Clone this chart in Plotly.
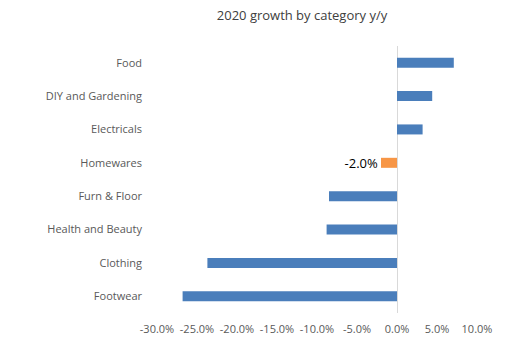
import plotly.graph_objects as go

categories = ["Food", "DIY and Gardening", "Electricals", "Homewares",
              "Furn & Floor", "Health and Beauty", "Clothing", "Footwear"]
growth = [7.1, 4.4, 3.2, -2.0, -8.5, -8.8, -23.7, -26.8]
highlight = "Homewares"
tick_vals = [-30, -25, -20, -15, -10, -5, 0, 5, 10]
tick_text = ["-30.0%", "-25.0%", "-20.0%", "-15.0%", "-10.0%", "-5.0%", "0.0%", "5.0%", "10.0%"]

colors = ["#F79646" if c == highlight else "#4A7EBB" for c in categories]
labels = [f"{v:.1f}%" if c == highlight else "" for c, v in zip(categories, growth)]

font_family = "Open Sans, Liberation Sans, sans-serif"

fig = go.Figure(go.Bar(
    x=growth, y=categories, orientation="h",
    marker=dict(color=colors, line=dict(width=0)),
    width=0.3,
    text=labels, textposition="outside", cliponaxis=False, constraintext="none",
    textfont=dict(family=font_family, size=13, color="#000000"),
))

fig.update_layout(
    width=515, height=350,
    margin=dict(l=157, r=38, t=46, b=37),
    paper_bgcolor="white", plot_bgcolor="white",
    showlegend=False,
    title=dict(text="2020 growth by category y/y", x=302/515, xanchor="center",
               y=1-15/350, yanchor="middle", xref="container", yref="container",
               font=dict(family=font_family, size=13, color="#404040")),
    xaxis=dict(range=[-30, 10], tickvals=tick_vals, ticktext=tick_text,
               showgrid=False, zeroline=True, zerolinecolor="#D9D9D9", zerolinewidth=1,
               showline=False, ticks="", ticklabelstandoff=8,
               tickfont=dict(family=font_family, size=11, color="#595959")),
    yaxis=dict(categoryorder="array", categoryarray=categories[::-1],
               showgrid=False, showline=False, ticks="", ticklabelstandoff=14,
               tickfont=dict(family=font_family, size=11, color="#595959")),
)

fig.write_html("out.html")
